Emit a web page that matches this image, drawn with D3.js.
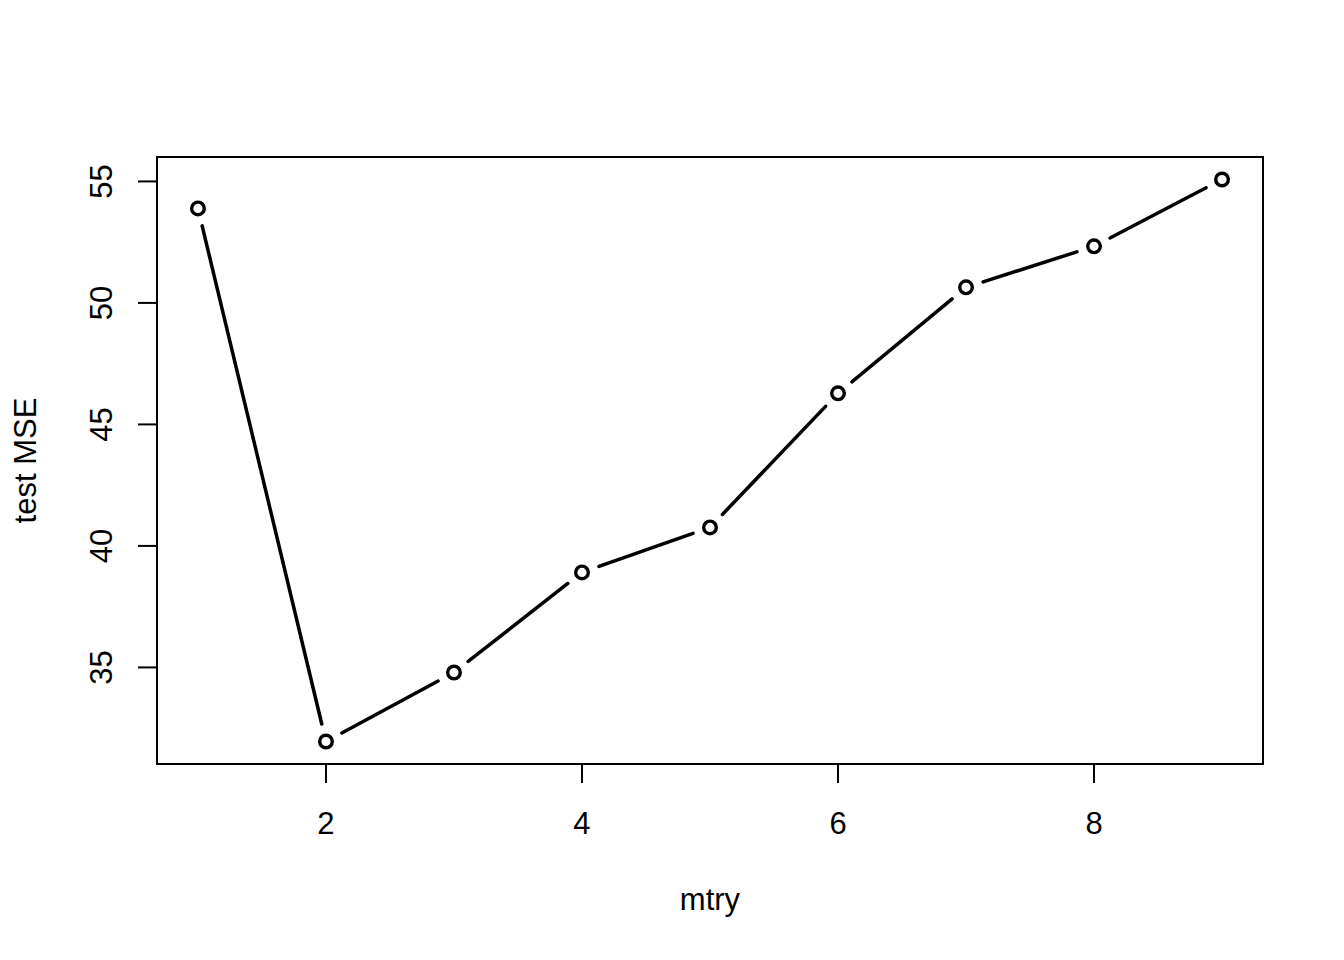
<!DOCTYPE html>
<html><head><meta charset="utf-8">
<script src="https://cdn.jsdelivr.net/npm/d3@7"></script>
<style>body{margin:0;background:#fff;} text{font-family:"Liberation Sans",Arial,sans-serif;}</style>
</head><body>
<script>
const mtry = [1,2,3,4,5,6,7,8,9];
const testMSE = [53.89, 31.95, 34.79, 38.91, 40.76, 46.28, 50.64, 52.33, 55.08];
const xTicks = [2,4,6,8];
const yTicks = [35,40,45,50,55];
const xLabel = "mtry", yLabel = "test MSE";

const W=1344,H=960, L=157, R=1263, T=157, B=764;
const svg=d3.select("body").append("svg").attr("width",W).attr("height",H);
const xr=d3.extent(mtry), yr=d3.extent(testMSE);
const xd=(xr[1]-xr[0])*0.04, yd=(yr[1]-yr[0])*0.04;
const x=d3.scaleLinear().domain([xr[0]-xd,xr[1]+xd]).range([L,R]);
const y=d3.scaleLinear().domain([yr[0]-yd,yr[1]+yd]).range([B,T]);

svg.append("rect").attr("x",L).attr("y",T).attr("width",R-L).attr("height",B-T)
  .attr("fill","none").attr("stroke","#000").attr("stroke-width",2);

const fs=31;
const xa=svg.append("g");
xa.append("line").attr("x1",x(xTicks[0])).attr("x2",x(xTicks[xTicks.length-1])).attr("y1",B).attr("y2",B).attr("stroke","#000").attr("stroke-width",2);
xTicks.forEach(t=>{
  xa.append("line").attr("x1",x(t)).attr("x2",x(t)).attr("y1",B).attr("y2",B+19).attr("stroke","#000").attr("stroke-width",2);
  xa.append("text").attr("x",x(t)).attr("y",834).attr("text-anchor","middle").attr("font-size",fs).text(t);
});
const ya=svg.append("g");
ya.append("line").attr("x1",L).attr("x2",L).attr("y1",y(yTicks[0])).attr("y2",y(yTicks[yTicks.length-1])).attr("stroke","#000").attr("stroke-width",2);
yTicks.forEach(t=>{
  ya.append("line").attr("x1",L).attr("x2",L-19).attr("y1",y(t)).attr("y2",y(t)).attr("stroke","#000").attr("stroke-width",2);
  ya.append("text").attr("transform",`translate(112,${y(t)}) rotate(-90)`).attr("text-anchor","middle").attr("font-size",fs).text(t);
});
svg.append("text").attr("x",(L+R)/2).attr("y",910).attr("text-anchor","middle").attr("font-size",fs).text(xLabel);
svg.append("text").attr("transform",`translate(36,${(T+B)/2}) rotate(-90)`).attr("text-anchor","middle").attr("font-size",fs).text(yLabel);

const gap=18;
const pts=mtry.map((m,i)=>[x(m),y(testMSE[i])]);
for(let i=0;i<pts.length-1;i++){
  const [x0,y0]=pts[i],[x1,y1]=pts[i+1];
  const dx=x1-x0, dy=y1-y0, d=Math.hypot(dx,dy);
  if(d<=2*gap) continue;
  const ux=dx/d, uy=dy/d;
  svg.append("line").attr("x1",x0+ux*gap).attr("y1",y0+uy*gap).attr("x2",x1-ux*gap).attr("y2",y1-uy*gap)
    .attr("stroke","#000").attr("stroke-width",3.5).attr("stroke-linecap","round");
}
svg.selectAll("circle.pt").data(mtry).join("circle").attr("class","pt")
  .attr("cx",d=>x(d)).attr("cy",(d,i)=>y(testMSE[i])).attr("r",6.3)
  .attr("fill","none").attr("stroke","#000").attr("stroke-width",3.4);
</script>
</body></html>
